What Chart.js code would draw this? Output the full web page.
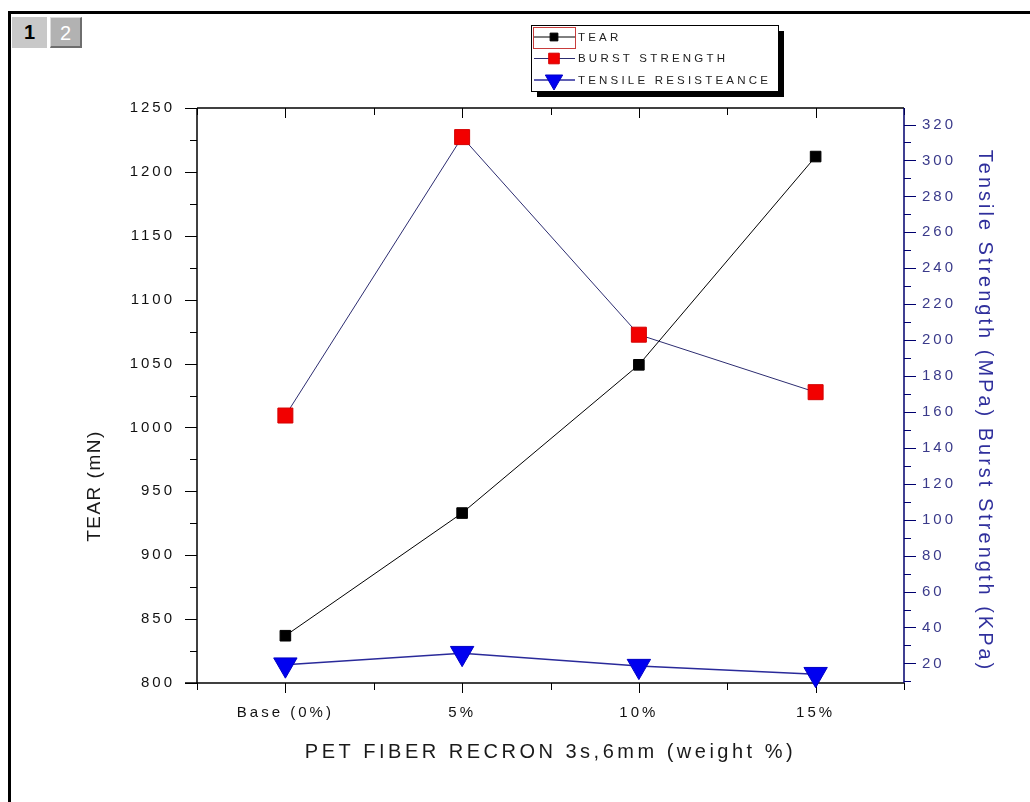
<!DOCTYPE html>
<html>
<head>
<meta charset="utf-8">
<script src="https://cdn.jsdelivr.net/npm/chart.js@4.4.1/dist/chart.umd.min.js"></script>
<style>
html, body { margin: 0; padding: 0; background: #fff; }
#wrap { position: relative; width: 1030px; height: 802px; overflow: hidden; background: #fff; }
#chart { position: absolute; left: 0; top: 0; }
.edge { position: absolute; background: #000; }
.tab { position: absolute; top: 17px; height: 31px; font: bold 20px "Liberation Sans", Arial, sans-serif; line-height: 31px; text-align: center; box-sizing: border-box; }
</style>
</head>
<body>
<div id="wrap">
  <canvas id="chart" width="1030" height="802"></canvas>
  <div class="edge" style="left:8px; top:11px; width:1022px; height:3px;"></div>
  <div class="edge" style="left:8px; top:11px; width:3px; height:791px;"></div>
  <div class="tab" style="left:12px; width:35px; background:#c8c8c8; color:#000;">1</div>
  <div class="tab" style="left:50px; width:32px; background:#b2b2b2; color:#fff; border-right:2px solid #6e6e6e; border-bottom:2px solid #6e6e6e; border-top:1px solid #dcdcdc; border-left:1px solid #dcdcdc; font-weight:normal;">2</div>
</div>
<script>
// valores
const categories = ['Base (0%)', '5%', '10%', '15%'];
const tear = [837, 933, 1049, 1212];
const burst = [158, 313, 203, 171];
const tensile = [19.3, 25.7, 18.5, 14.0];
const seriesNames = ['TEAR', 'BURST STRENGTH', 'TENSILE RESISTEANCE'];
const leftTicks = [800, 850, 900, 950, 1000, 1050, 1100, 1150, 1200, 1250];
const rightTicks = [20, 40, 60, 80, 100, 120, 140, 160, 180, 200, 220, 240, 260, 280, 300, 320];

const FONT = '"Liberation Sans", Arial, sans-serif';
const toPoints = arr => arr.map((v, i) => ({x: i, y: v}));
const isTick = (list, v) => list.some(t => Math.abs(t - v) < 1e-6);

function line(ctx, x1, y1, x2, y2) {
    ctx.beginPath();
    ctx.moveTo(x1, y1);
    ctx.lineTo(x2, y2);
    ctx.stroke();
}

// moldura, eixos e marcas no estilo do Origin
const frame = {
    id: 'frame',
    beforeDraw(chart) {
        chart.ctx.letterSpacing = '3px';
    },
    beforeDatasetsDraw(chart) {
        const {ctx, chartArea: {left, right, top, bottom}, scales: {x, y, y2}} = chart;
        ctx.save();
        ctx.strokeStyle = '#000';
        ctx.lineWidth = 1.5;
        line(ctx, left, top, right, top);
        line(ctx, left, top, left, bottom);
        line(ctx, left - 12, bottom, right, bottom);
        ctx.lineWidth = 1;
        for (let v = x.min; v <= x.max + 1e-9; v += 0.5) {
            const px = Math.round(x.getPixelForValue(v)) + 0.5;
            const len = Number.isInteger(v) ? 10 : 7;
            line(ctx, px, bottom, px, bottom + len);
            line(ctx, px, top, px, top + len);
        }
        for (let v = leftTicks[0]; v <= leftTicks[leftTicks.length - 1]; v += 25) {
            const py = Math.round(y.getPixelForValue(v)) + 0.5;
            const len = isTick(leftTicks, v) ? 12 : 7;
            line(ctx, left - len, py, left, py);
        }
        ctx.strokeStyle = '#00006e';
        ctx.lineWidth = 1.5;
        line(ctx, right, top, right, bottom);
        ctx.lineWidth = 1;
        for (let v = 10; v <= rightTicks[rightTicks.length - 1]; v += 10) {
            const py = Math.round(y2.getPixelForValue(v)) + 0.5;
            const len = isTick(rightTicks, v) ? 12 : 7;
            line(ctx, right, py, right + len, py);
        }
        ctx.restore();
    },
    afterDraw(chart) {
        const ctx = chart.ctx;
        const {chartArea: {left, right}} = chart;
        ctx.save();
        ctx.textAlign = 'center';
        ctx.textBaseline = 'middle';

        // títulos dos eixos
        ctx.letterSpacing = '3.5px';
        ctx.fillStyle = '#1a1a1a';
        ctx.font = '20px ' + FONT;
        ctx.fillText('PET FIBER RECRON 3s,6mm (weight %)', (left + right) / 2, 752);

        ctx.save();
        ctx.translate(95, 486);
        ctx.rotate(-Math.PI / 2);
        ctx.letterSpacing = '1.5px';
        ctx.font = '19px ' + FONT;
        ctx.fillText('TEAR (mN)', 0, 0);
        ctx.restore();

        ctx.save();
        ctx.translate(985, 411);
        ctx.rotate(Math.PI / 2);
        ctx.letterSpacing = '3px';
        ctx.fillStyle = '#2f2f9c';
        ctx.font = '20px ' + FONT;
        ctx.fillText('Tensile Strength (MPa) Burst Strength (KPa)', 0, 0);
        ctx.restore();

        // legenda
        const lx = 531, ly = 25, lw = 247, lh = 66;
        ctx.fillStyle = '#000';
        ctx.fillRect(lx + 6, ly + 6, lw, lh);
        ctx.fillStyle = '#fff';
        ctx.fillRect(lx, ly, lw, lh);
        ctx.strokeStyle = '#000';
        ctx.lineWidth = 1;
        ctx.strokeRect(lx + 0.5, ly + 0.5, lw, lh);
        ctx.strokeStyle = '#c83c3c';
        ctx.strokeRect(lx + 2.5, ly + 2.5, 42, 21);

        const legendRadius = [5.5, 7.5, 10];
        chart.data.datasets.forEach((ds, i) => {
            const cy = ly + 12 + i * 21.5;
            ctx.strokeStyle = ds.borderColor;
            ctx.lineWidth = ds.borderWidth;
            line(ctx, lx + 3, cy, lx + 44, cy);
            ctx.fillStyle = ds.pointBackgroundColor;
            ctx.strokeStyle = ds.pointBorderColor;
            ctx.lineWidth = 1;
            Chart.helpers.drawPoint(ctx, {
                pointStyle: ds.pointStyle,
                rotation: ds.pointRotation || 0,
                radius: legendRadius[i],
                borderWidth: 1
            }, lx + 23, cy);
            ctx.fillStyle = '#222';
            ctx.textAlign = 'left';
            ctx.letterSpacing = '3.2px';
            ctx.font = '11.5px ' + FONT;
            ctx.fillText(ds.label, lx + 47, cy + 0.5);
        });
        ctx.restore();
    }
};

new Chart(document.getElementById('chart'), {
    type: 'line',
    data: {
        datasets: [
            {
                label: seriesNames[0],
                data: toPoints(tear),
                yAxisID: 'y',
                borderColor: '#000',
                borderWidth: 1,
                pointStyle: 'rect',
                pointRadius: 7.5,
                pointBackgroundColor: '#000',
                pointBorderColor: '#000',
                pointBorderWidth: 1,
                clip: false
            },
            {
                label: seriesNames[1],
                data: toPoints(burst),
                yAxisID: 'y2',
                borderColor: '#2c2c70',
                borderWidth: 1,
                pointStyle: 'rect',
                pointRadius: 10.6,
                pointBackgroundColor: '#f20000',
                pointBorderColor: '#d40000',
                pointBorderWidth: 1,
                clip: false
            },
            {
                label: seriesNames[2],
                data: toPoints(tensile),
                yAxisID: 'y2',
                borderColor: '#2a2a9a',
                borderWidth: 1.5,
                pointStyle: 'triangle',
                pointRotation: 180,
                pointRadius: 13.5,
                pointBackgroundColor: '#0000f0',
                pointBorderColor: '#0000c4',
                pointBorderWidth: 1,
                clip: false
            }
        ]
    },
    options: {
        responsive: false,
        animation: false,
        events: [],
        layout: { padding: { top: 108, left: 0, right: 0, bottom: 0 } },
        plugins: {
            legend: { display: false },
            tooltip: { enabled: false }
        },
        scales: {
            x: {
                type: 'linear',
                min: -0.5,
                max: 3.5,
                grid: { display: false, drawTicks: false },
                border: { display: false },
                ticks: {
                    stepSize: 0.5,
                    autoSkip: false,
                    maxRotation: 0,
                    padding: 21,
                    color: '#111',
                    font: { family: FONT, size: 15 },
                    callback: v => Number.isInteger(v) ? categories[v] : ''
                },
                afterFit: s => { s.height = 119; }
            },
            y: {
                position: 'left',
                min: leftTicks[0],
                max: leftTicks[leftTicks.length - 1],
                grid: { display: false, drawTicks: false },
                border: { display: false },
                ticks: {
                    stepSize: 50,
                    padding: 22,
                    color: '#111',
                    font: { family: FONT, size: 15 },
                    callback: v => String(v)
                },
                afterFit: s => { s.width = 197; }
            },
            y2: {
                position: 'right',
                min: 9.1,
                max: 329.2,
                grid: { display: false, drawTicks: false },
                border: { display: false },
                afterBuildTicks: s => { s.ticks = rightTicks.map(v => ({value: v})); },
                ticks: {
                    autoSkip: false,
                    padding: 18,
                    color: '#3a3a8a',
                    font: { family: FONT, size: 15 },
                    callback: v => String(Math.round(v))
                },
                afterFit: s => { s.width = 126; }
            }
        }
    },
    plugins: [frame]
});
</script>
</body>
</html>
